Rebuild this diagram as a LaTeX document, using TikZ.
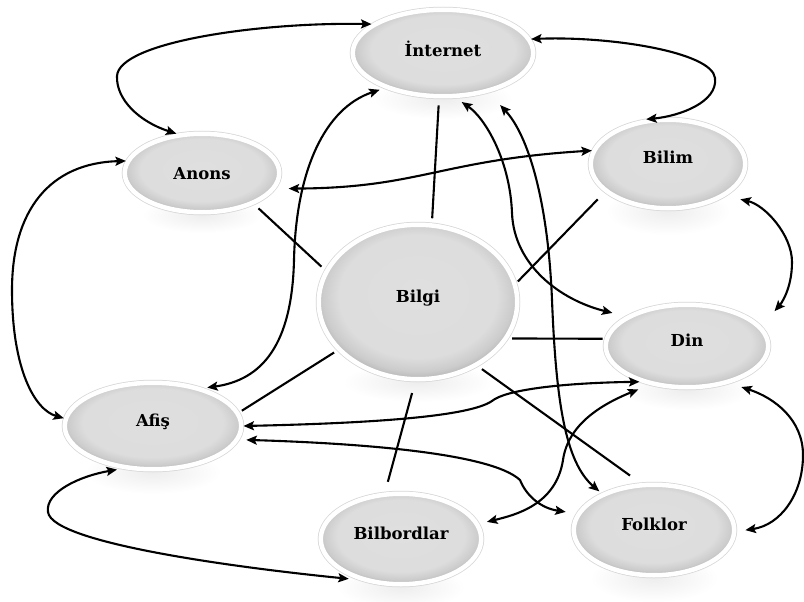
\documentclass[tikz,border=0pt]{standalone}
\usepackage{fontspec}
\setmainfont{DejaVu Serif}
\usetikzlibrary{shapes.geometric,arrows.meta}

% glossy grey core of each bubble: flat light centre, darker rim, darkest at the bottom
\definecolor{bubcore}{gray}{0.875}
\definecolor{bubmid}{gray}{0.865}
\definecolor{bubedge}{gray}{0.80}
\definecolor{bubdark}{gray}{0.66}
\definecolor{bubglow}{gray}{0.84}
\pgfdeclareradialshading{bubshade}{\pgfpoint{0bp}{3bp}}{%
  color(0bp)=(bubcore); color(20bp)=(bubmid); color(24bp)=(bubedge);
  color(28bp)=(bubdark); color(50bp)=(bubdark)}

\tikzset{
  bubble/.style={ellipse, inner sep=0pt, shade, shading=bubshade,
    preaction={draw=bubglow, line width=6pt},
    draw=white, line width=4.5pt, text=black,
    font=\bfseries\fontsize{16.5}{19}\selectfont,
    text height=0pt, text depth=0pt},
  mirror/.style={inner color=gray!14, outer color=white},
  link/.style={line width=2.1pt},
  twoway/.style={line width=2.1pt,
    {Stealth[length=10.5pt,width=9pt,inset=2pt]}-{Stealth[length=10.5pt,width=9pt,inset=2pt]}},
}

\begin{document}
\begin{tikzpicture}[x=1pt, y=-1pt]
\fill[white] (0,0) rectangle (804,602);
\path[use as bounding box] (0,0) rectangle (804,602);

% soft reflections under the bubbles
\shade[mirror] (443,99)  ellipse [x radius=70pt, y radius=20pt];
\shade[mirror] (202,215) ellipse [x radius=60pt, y radius=18pt];
\shade[mirror] (418,382) ellipse [x radius=75pt, y radius=20pt];
\shade[mirror] (668,211) ellipse [x radius=62pt, y radius=24pt];
\shade[mirror] (687,390) ellipse [x radius=64pt, y radius=20pt];
\shade[mirror] (153,472) ellipse [x radius=68pt, y radius=22pt];
\shade[mirror] (401,587) ellipse [x radius=64pt, y radius=22pt];
\shade[mirror] (654,578) ellipse [x radius=64pt, y radius=24pt];

% bubbles
\node[bubble, minimum width=180.5pt, minimum height=86.5pt, text height=7pt] (internet) at (443,53) {İnternet};
\node[bubble, minimum width=154.5pt, minimum height=78.5pt, text height=12pt] (anons) at (202,173) {Anons};
\node[bubble, minimum width=198.5pt, minimum height=154.5pt] (bilgi) at (418,302) {Bilgi};
\node[bubble, minimum width=154.5pt, minimum height=88.5pt] (bilim) at (668,164) {Bilim};
\node[bubble, minimum width=162.5pt, minimum height=82.5pt] (din) at (687,346) {Din};
\node[bubble, minimum width=176.5pt, minimum height=86.5pt] (afis) at (153,426) {Afiş};
\node[bubble, minimum width=160.5pt, minimum height=90.5pt] (bilbordlar) at (401,539) {Bilbordlar};
\node[bubble, minimum width=160.5pt, minimum height=90.5pt] (folklor) at (654,530) {Folklor};

% plain links from the centre
\draw[link, shorten <=6pt, shorten >=5pt] (anons.-31) -- (bilgi.161);
\draw[link, shorten <=5pt, shorten >=7pt] (bilgi.80.5) -- (internet.-95.7);
\draw[link, shorten <=2pt, shorten >=10pt] (bilgi.11) -- (bilim.204);
\draw[link, shorten <=4pt, shorten >=2pt] (bilgi.-22) -- (din.175);
\draw[link, shorten <=4pt, shorten >=3pt] (bilgi.211) -- (afis.9);
\draw[link, shorten <=12pt, shorten >=11pt] (bilgi.-92) -- (bilbordlar.109);
\draw[link, shorten <=5pt, shorten >=13pt] (bilgi.-47) -- (folklor.106);

% two-way arrows
\draw[twoway] (anons.123) .. controls (140,122) and (116,100) .. (117,76)
  .. controls (119,42) and (260,22) .. (internet.158);
\draw[twoway] (internet.9) .. controls (610,36) and (712,52) .. (715,78)
  .. controls (718,102) and (680,116) .. (bilim.116);
\draw[twoway, shorten <=13pt] (anons.-12) .. controls (420,188) and (440,160) .. (bilim.170);
\draw[twoway] (anons.171) .. controls (50,163) and (12,210) .. (12,290)
  .. controls (12,370) and (35,410) .. (afis.175);
\draw[twoway, shorten <=5pt, shorten >=4pt] (internet.211) .. controls (325,108) and (296,170) .. (294,260)
  .. controls (292,345) and (262,380) .. (afis.37);
\draw[twoway, shorten <=7pt, shorten >=14pt] (internet.-74) .. controls (485,118) and (510,160) .. (512,213)
  .. controls (514,265) and (560,300) .. (din.154);
\draw[twoway, shorten <=17pt, shorten >=3pt] (internet.-41) .. controls (528,135) and (548,200) .. (552,300)
  .. controls (556,400) and (565,462) .. (folklor.145);
\draw[twoway, shorten <=15pt, shorten >=20pt] (bilim.-29) .. controls (765,205) and (792,235) .. (792,262)
  .. controls (792,290) and (780,305) .. (din.15);
\draw[twoway, shorten <=12pt, shorten >=9pt] (din.-41) .. controls (775,398) and (803,420) .. (803,455)
  .. controls (803,495) and (780,525) .. (folklor.-1);
\draw[twoway] (afis.0) .. controls (380,423) and (470,416) .. (492,401)
  .. controls (505,390) and (560,383) .. (din.217);
\draw[twoway, shorten <=12pt, shorten >=8pt] (din.-134) .. controls (600,405) and (568,425) .. (563,460)
  .. controls (556,505) and (515,515) .. (bilbordlar.11);
\draw[twoway, shorten <=7pt, shorten >=11pt] (afis.-9.5) .. controls (350,443) and (490,452) .. (520,480)
  .. controls (526,495) and (540,508) .. (folklor.168);
\draw[twoway, shorten <=5pt, shorten >=10pt] (afis.-126) .. controls (80,476) and (45,492) .. (48,512)
  .. controls (52,545) and (260,570) .. (bilbordlar.-136);
\end{tikzpicture}
\end{document}
